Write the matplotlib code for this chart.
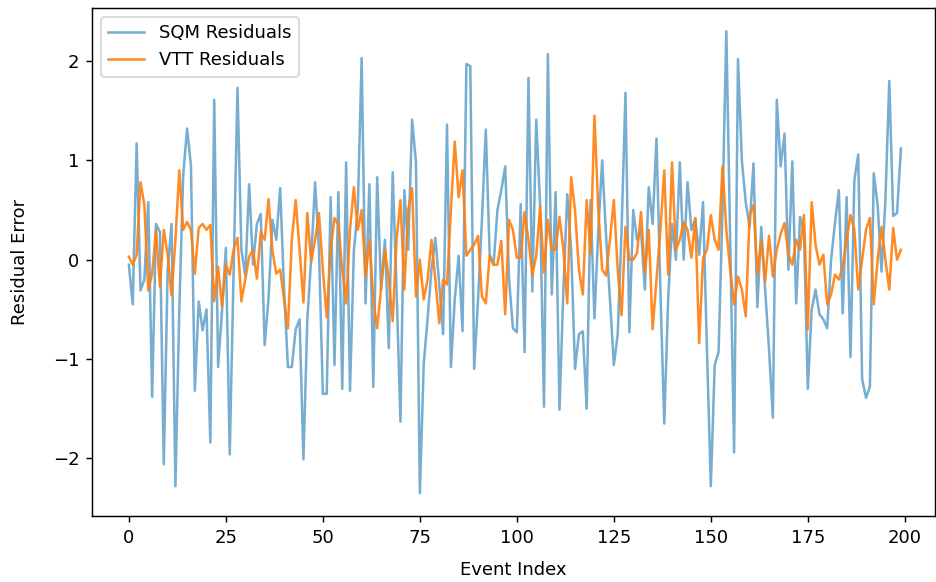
import numpy as np
import matplotlib.pyplot as plt

# Residuals (200 events)
sqm_residuals = [
    -0.05, -0.45, 1.17, -0.31, -0.2, 0.58, -1.38, 0.36, 0.28, -2.06,
    -0.1, 0.36, -2.28, -0.5, 0.85, 1.32, 0.95, -1.32, -0.42, -0.71,
    -0.5, -1.84, 1.61, -1.08, -0.52, 0.12, -1.96, -0.1, 1.73, 0.1,
    -0.16, 0.76, -0.05, 0.36, 0.46, -0.86, -0.39, 0.4, 0.2, 0.72,
    -0.3, -1.08, -1.08, -0.7, -0.6, -2.01, -0.6, 0.02, 0.78, 0.1,
    -1.35, -1.35, 0.63, -1.06, 0.68, -1.3, 0.98, -1.32, 0.1, 0.5,
    2.03, -0.44, 0.76, -1.28, 0.83, -0.3, 0.2, -0.89, 0.88, -0.3,
    -1.63, 0.7, 0.1, 1.41, 0.98, -2.35, -1.05, -0.59, -0.1, 0.22,
    -0.25, -0.75, 1.36, -1.08, -0.4, 0.04, -0.72, 1.97, 1.95, -1.1,
    -0.4, 0.4, 1.31, 0.05, -0.05, 0.5, 0.7, 0.94, -0.2, -0.69,
    -0.73, 0.56, -0.93, 1.83, -0.32, 1.41, 0.55, -1.48, 2.07, -0.35,
    0.68, -1.51, -0.3, 0.66, 0.1, -1.1, -0.75, -0.72, -1.5, 0.6,
    -0.59, 0.3, 1.0, 0.24, -0.4, -1.06, -0.75, 0.3, 1.68, -0.73,
    0.5, 0.2, 0.3, -0.3, 0.73, 0.36, 1.22, -0.3, -1.65, -0.4,
    0.36, 0.0, 0.98, 0.0, 0.78, 0.3, 0.41, 0.05, 0.58, -0.9,
    -2.28, -1.06, -0.93, 0.5, 2.3, 0.2, -1.94, 2.02, 1.0, 0.58,
    0.33, 0.97, -0.48, 0.33, -0.3, -0.9, -1.59, 1.61, 0.94, 1.27,
    -0.1, 0.99, -0.44, 0.43, 0.3, -1.3, -0.5, -0.3, -0.55, -0.6,
    -0.69, 0.0, 0.37, 0.7, -0.54, 0.63, -0.98, 0.8, 1.06, -1.2,
    -1.39, -1.28, 0.87, 0.55, -0.12, 0.6, 1.8, 0.44, 0.47, 1.12,
]

vtt_residuals = [
    0.03, -0.05, 0.05, 0.78, 0.55, -0.31, -0.14, 0.3, -0.27, 0.3,
    0.05, -0.36, 0.2, 0.9, 0.3, 0.38, 0.3, -0.14, 0.32, 0.36,
    0.3, 0.35, -0.42, -0.07, -0.47, -0.05, -0.15, 0.1, 0.22, -0.42,
    -0.2, 0.03, 0.1, -0.19, 0.28, 0.2, 0.61, 0.09, -0.14, -0.1,
    -0.4, -0.69, 0.2, 0.6, 0.1, -0.43, 0.47, -0.02, 0.2, 0.47,
    -0.1, -0.58, 0.1, 0.42, 0.35, -0.1, -0.44, 0.3, 0.73, 0.3,
    0.5, -0.17, 0.2, -0.4, -0.69, -0.3, 0.1, -0.2, -0.62, 0.2,
    0.6, -0.3, 0.5, 0.72, -0.37, 0.0, -0.4, -0.2, 0.2, -0.2,
    -0.64, -0.2, -0.25, 0.5, 1.19, 0.63, 0.9, 0.04, 0.1, 0.15,
    0.24, -0.37, -0.44, 0.04, -0.05, -0.05, 0.19, -0.55, 0.4, 0.3,
    0.02, 0.02, 0.48, 0.2, -0.15, 0.04, 0.53, -0.13, 0.4, 0.1,
    0.1, 0.43, 0.1, -0.44, 0.83, 0.5, -0.1, -0.35, 0.6, 0.06,
    1.45, 0.5, -0.1, -0.16, 0.2, 0.6, -0.1, -0.56, 0.33, 0.0,
    0.0, 0.07, 0.48, -0.13, 0.3, -0.7, -0.2, 0.3, 0.9, -0.15,
    0.98, 0.1, 0.2, 0.38, 0.3, 0.02, 0.42, -0.84, 0.02, 0.1,
    0.45, 0.2, 0.1, 0.94, 0.3, -0.1, -0.45, -0.17, -0.3, -0.57,
    0.45, 0.55, -0.15, 0.2, -0.22, 0.24, -0.17, 0.1, 0.26, 0.37,
    0.05, -0.05, 0.2, 0.1, 0.45, -0.7, 0.58, 0.15, -0.05, 0.05,
    -0.45, -0.35, -0.15, -0.2, -0.07, 0.2, 0.45, 0.3, -0.3, 0.0,
    0.3, 0.42, -0.45, 0.0, 0.33, 0.0, -0.3, 0.32, 0.0, 0.1,
]

event_index = np.arange(len(sqm_residuals))

# reference looks like a ~1.3x scaled notebook figure
fig, ax = plt.subplots(figsize=(7.2, 4.477), dpi=130)
ax.plot(event_index, sqm_residuals, color="tab:blue", alpha=0.6, linewidth=1.4, label="SQM Residuals")
ax.plot(event_index, vtt_residuals, color="tab:orange", alpha=0.9, linewidth=1.4, label="VTT Residuals")

ax.set_xlim(-9.5, 207.8)
ax.set_xlabel("Event Index", labelpad=8)
ax.set_ylabel("Residual Error", labelpad=13)
ax.legend(loc="upper left")

fig.subplots_adjust(left=0.0983, right=0.999, top=0.986, bottom=0.113)
fig.savefig("out.png", dpi=130)
